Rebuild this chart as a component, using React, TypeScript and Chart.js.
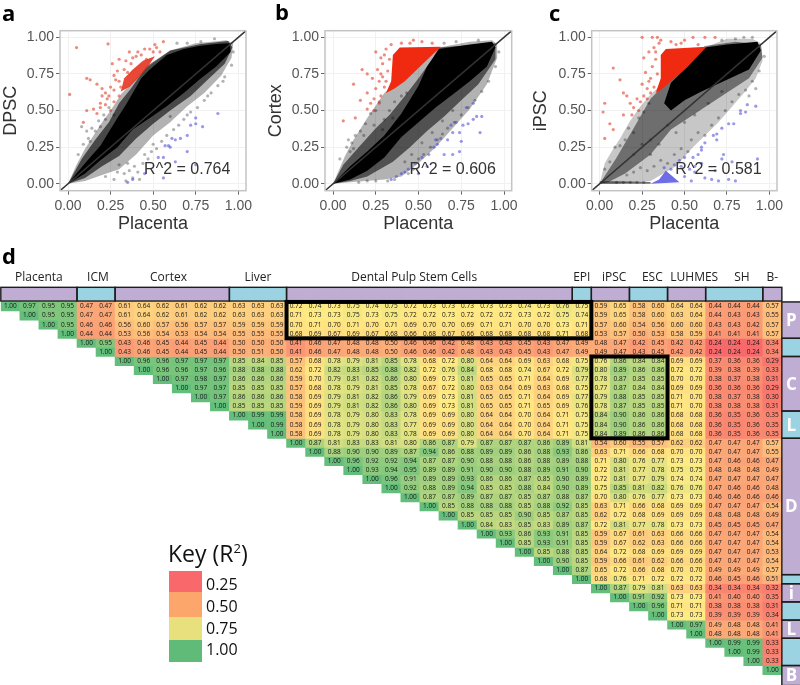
import React, { useEffect, useRef } from "react";
import { Chart, registerables } from "chart.js";

Chart.register(...registerables);

type P = [number, number];

// ---------- Scatter panels. The reference holds far too many points to read one by one,
// so each cloud is an estimated outline (dense mass, mid layer, thin halo) plus hand-read outliers.
const axisTicks = [0, 0.25, 0.5, 0.75, 1];
const diagonal: P[] = [[-0.05, -0.05], [1.05, 1.05]];

const aHalo: P[] = [[0, 0], [0.05, 0.13], [0.1, 0.24], [0.15, 0.33], [0.2, 0.42], [0.25, 0.5], [0.31, 0.61], [0.45, 0.78], [0.6, 0.91], [0.75, 0.96], [0.93, 0.98], [0.97, 0.96], [0.96, 0.86], [0.9, 0.74], [0.8, 0.62], [0.7, 0.53], [0.6, 0.42], [0.5, 0.33], [0.4, 0.2], [0.3, 0.1], [0.2, 0.06], [0.1, 0.02], [0, 0]];
const aMid: P[] = [[0, 0], [0.08, 0.17], [0.16, 0.3], [0.24, 0.42], [0.3, 0.55], [0.37, 0.65], [0.46, 0.8], [0.6, 0.91], [0.78, 0.955], [0.94, 0.975], [0.965, 0.93], [0.92, 0.82], [0.82, 0.71], [0.72, 0.6], [0.6, 0.5], [0.5, 0.41], [0.4, 0.31], [0.3, 0.19], [0.2, 0.12], [0.1, 0.04], [0, 0]];
const aCore: P[] = [[0, 0], [0.1, 0.14], [0.19, 0.26], [0.29, 0.45], [0.34, 0.54], [0.38, 0.62], [0.43, 0.72], [0.48, 0.78], [0.58, 0.88], [0.68, 0.92], [0.77, 0.94], [0.87, 0.955], [0.95, 0.96], [0.955, 0.9], [0.87, 0.8], [0.77, 0.71], [0.68, 0.62], [0.58, 0.53], [0.48, 0.45], [0.38, 0.37], [0.29, 0.25], [0.19, 0.16], [0.1, 0.07], [0, 0]];
const aRedCore: P[] = [[0.31, 0.63], [0.33, 0.72], [0.38, 0.78], [0.44, 0.84], [0.51, 0.87], [0.47, 0.8], [0.41, 0.72], [0.36, 0.66], [0.31, 0.63]];
const aRed: P[] = [[0.05, 0.93], [0.235, 0.955], [0.01, 0.61], [0.11, 0.72], [0.13, 0.71], [0.17, 0.68], [0.2, 0.65], [0.24, 0.6], [0.22, 0.62], [0.11, 0.5], [0.15, 0.51], [0.17, 0.48], [0.09, 0.42], [0.19, 0.55], [0.22, 0.54], [0.25, 0.5], [0.27, 0.56], [0.3, 0.6], [0.3, 0.7], [0.27, 0.74], [0.26, 0.82], [0.33, 0.78], [0.3, 0.85], [0.36, 0.9], [0.4, 0.87], [0.43, 0.88], [0.48, 0.92], [0.56, 0.97], [0.51, 0.95], [0.54, 0.9], [0.46, 0.85], [0.37, 0.82], [0.31, 0.66], [0.27, 0.64], [0.29, 0.77], [0.34, 0.84], [0.41, 0.9], [0.45, 0.92], [0.5, 0.9], [0.38, 0.86], [0.2, 0.6], [0.19, 0.52], [0.23, 0.58], [0.25, 0.66], [0.28, 0.71], [0.35, 0.76], [0.52, 0.93]];
const aBlue: P[] = [[0.88, 0.48], [0.79, 0.39], [0.75, 0.45], [0.72, 0.4], [0.75, 0.41], [0.7, 0.33], [0.61, 0.31], [0.59, 0.26], [0.63, 0.3], [0.66, 0.31], [0.56, 0.18], [0.53, 0.18], [0.7, 0.22], [0.6, 0.25], [0.57, 0.26], [0.35, 0.01], [0.38, 0.03], [0.45, 0.07], [0.56, 0.04], [0.63, 0.15], [0.75, 0.13]];
const aGray: P[] = [[0.06, 0.2], [0.09, 0.27], [0.12, 0.31], [0.14, 0.38], [0.16, 0.36], [0.18, 0.43], [0.21, 0.47], [0.24, 0.52], [0.27, 0.47], [0.13, 0.29], [0.11, 0.36], [0.08, 0.39], [0.19, 0.39], [0.22, 0.44], [0.15, 0.17], [0.22, 0.05], [0.27, 0.03], [0.29, 0.08], [0.33, 0.07], [0.36, 0.09], [0.39, 0.12], [0.41, 0.08], [0.44, 0.14], [0.47, 0.17], [0.49, 0.22], [0.52, 0.24], [0.55, 0.29], [0.58, 0.33], [0.62, 0.37], [0.65, 0.4], [0.68, 0.44], [0.72, 0.49], [0.76, 0.52], [0.8, 0.57], [0.84, 0.62], [0.88, 0.67], [0.92, 0.73], [0.96, 0.81], [0.97, 0.9], [0.78, 0.97], [0.7, 0.96], [0.64, 0.96], [0.86, 0.99], [0.5, 0.27], [0.45, 0.2], [0.35, 0.14], [0.3, 0.13], [0.38, 0.04], [0.34, 0.02], [0.42, 0.03], [0.6, 0.46], [0.7, 0.47], [0.82, 0.6], [0.91, 0.7]];

const bHalo: P[] = [[0, 0], [0.07, 0.19], [0.12, 0.3], [0.2, 0.45], [0.3, 0.62], [0.45, 0.78], [0.62, 0.93], [0.8, 0.97], [0.93, 0.98], [0.96, 0.95], [0.96, 0.86], [0.9, 0.68], [0.8, 0.51], [0.7, 0.38], [0.6, 0.25], [0.5, 0.14], [0.4, 0.05], [0.3, 0.03], [0.1, 0.01], [0, 0]];
const bMid: P[] = [[0, 0], [0.06, 0.13], [0.15, 0.25], [0.25, 0.38], [0.33, 0.47], [0.42, 0.6], [0.5, 0.72], [0.58, 0.85], [0.62, 0.93], [0.95, 0.96], [0.95, 0.85], [0.85, 0.68], [0.75, 0.57], [0.65, 0.46], [0.55, 0.36], [0.45, 0.25], [0.35, 0.15], [0.2, 0.05], [0.1, 0.02], [0, 0]];
const bCore: P[] = [[0, 0], [0.1, 0.12], [0.2, 0.22], [0.3, 0.33], [0.4, 0.48], [0.5, 0.67], [0.55, 0.8], [0.62, 0.92], [0.8, 0.95], [0.93, 0.97], [0.95, 0.93], [0.9, 0.8], [0.8, 0.7], [0.7, 0.61], [0.6, 0.52], [0.5, 0.42], [0.4, 0.32], [0.3, 0.18], [0.2, 0.09], [0.1, 0.03], [0, 0]];
const bRedCore: P[] = [[0.31, 0.62], [0.34, 0.7], [0.35, 0.88], [0.39, 0.93], [0.63, 0.935], [0.5, 0.79], [0.42, 0.7], [0.36, 0.65], [0.31, 0.62]];
const bRed: P[] = [[0.12, 0.68], [0.17, 0.78], [0.2, 0.75], [0.2, 0.62], [0.16, 0.57], [0.2, 0.51], [0.24, 0.58], [0.28, 0.6], [0.13, 0.45], [0.06, 0.43], [0.24, 0.5], [0.25, 0.65], [0.27, 0.7], [0.28, 0.75], [0.26, 0.78], [0.23, 0.72], [0.29, 0.82], [0.3, 0.88], [0.25, 0.9], [0.28, 0.86], [0.31, 0.92], [0.34, 0.95], [0.4, 0.96], [0.47, 0.98], [0.52, 0.97], [0.58, 0.96], [0.3, 0.66], [0.32, 0.77], [0.27, 0.55], [0.22, 0.55], [0.33, 0.85], [0.29, 0.73], [0.31, 0.7], [0.45, 0.96]];
const bBlue: P[] = [[0.87, 0.46], [0.84, 0.46], [0.82, 0.44], [0.86, 0.35], [0.79, 0.41], [0.76, 0.4], [0.72, 0.42], [0.69, 0.4], [0.74, 0.35], [0.7, 0.35], [0.75, 0.29], [0.67, 0.3], [0.63, 0.31], [0.6, 0.3], [0.59, 0.25], [0.65, 0.2], [0.7, 0.2], [0.74, 0.22], [0.56, 0.2], [0.52, 0.18], [0.48, 0.14], [0.44, 0.1], [0.42, 0.08], [0.4, 0.07], [0.37, 0.05], [0.34, 0.03], [0.5, 0.07], [0.55, 0.12], [0.82, 0.55], [0.78, 0.52], [0.61, 0.27]];
const bGray: P[] = [[0.04, 0.17], [0.08, 0.25], [0.1, 0.22], [0.13, 0.33], [0.11, 0.28], [0.16, 0.36], [0.19, 0.41], [0.22, 0.48], [0.25, 0.5], [0.27, 0.56], [0.18, 0.33], [0.24, 0.4], [0.3, 0.44], [0.33, 0.5], [0.36, 0.56], [0.4, 0.6], [0.43, 0.62], [0.46, 0.55], [0.35, 0.45], [0.29, 0.37], [0.44, 0.07], [0.47, 0.1], [0.5, 0.17], [0.53, 0.2], [0.57, 0.25], [0.61, 0.3], [0.64, 0.34], [0.67, 0.38], [0.71, 0.42], [0.75, 0.47], [0.79, 0.52], [0.83, 0.57], [0.87, 0.63], [0.91, 0.7], [0.95, 0.8], [0.97, 0.9], [0.85, 0.98], [0.72, 0.97], [0.65, 0.96], [0.36, 0.03], [0.32, 0.02], [0.25, 0.02], [0.2, 0.02], [0.15, 0.01], [0.42, 0.15], [0.46, 0.2], [0.52, 0.28], [0.58, 0.35], [0.64, 0.43], [0.7, 0.5], [0.12, 0.24], [0.09, 0.3]];

const cHalo: P[] = [[0, 0], [0.03, 0.14], [0.07, 0.22], [0.12, 0.31], [0.18, 0.43], [0.24, 0.53], [0.3, 0.61], [0.45, 0.77], [0.62, 0.93], [0.75, 0.99], [0.9, 0.99], [0.95, 0.96], [0.96, 0.84], [0.92, 0.72], [0.85, 0.62], [0.7, 0.42], [0.55, 0.25], [0.45, 0.12], [0.3, 0.02], [0.1, 0], [0, 0]];
const cMid: P[] = [[0, 0], [0.1, 0.18], [0.2, 0.38], [0.3, 0.58], [0.42, 0.72], [0.62, 0.94], [0.8, 0.97], [0.95, 0.95], [0.96, 0.86], [0.88, 0.72], [0.72, 0.6], [0.55, 0.47], [0.42, 0.37], [0.3, 0.2], [0.15, 0.07], [0.05, 0.01], [0, 0]];
const cCore: P[] = [[0.38, 0.55], [0.42, 0.69], [0.5, 0.78], [0.62, 0.93], [0.75, 0.95], [0.93, 0.97], [0.95, 0.91], [0.88, 0.78], [0.75, 0.71], [0.6, 0.63], [0.5, 0.57], [0.42, 0.5], [0.38, 0.55]];
const cStrip: P[] = [[0, 0], [0.3, 0], [0.3, 0.012], [0.1, 0.018], [0, 0.018], [0, 0]];
const cRedCore: P[] = [[0.33, 0.62], [0.36, 0.72], [0.36, 0.88], [0.39, 0.92], [0.63, 0.935], [0.52, 0.8], [0.42, 0.7], [0.36, 0.64], [0.33, 0.62]];
const cBlueCore: P[] = [[0.3, 0], [0.35, 0.03], [0.39, 0.09], [0.42, 0.06], [0.47, 0.01], [0.3, 0]];
const cRed: P[] = [[0.25, 1], [0.31, 1], [0.34, 1], [0.55, 1], [0.62, 1], [0.68, 1], [0.08, 0.79], [0.02, 0.49], [0.03, 0.55], [0.14, 0.62], [0.12, 0.71], [0.16, 0.6], [0.18, 0.55], [0.2, 0.52], [0.22, 0.58], [0.08, 0.37], [0.06, 0.41], [0.03, 0.31], [0.14, 0.47], [0.24, 0.56], [0.26, 0.6], [0.28, 0.65], [0.29, 0.7], [0.27, 0.76], [0.31, 0.8], [0.33, 0.85], [0.29, 0.9], [0.26, 0.86], [0.32, 0.93], [0.35, 0.96], [0.42, 0.97], [0.48, 0.96], [0.5, 0.98], [0.58, 0.95], [0.3, 0.72], [0.32, 0.66], [0.34, 0.75], [0.19, 0.47], [0.23, 0.5], [0.25, 0.68], [0.3, 0.62], [0.28, 0.58], [0.33, 0.9], [0.36, 0.98], [0.45, 0.95]];
const cBlue: P[] = [[0.92, 0.53], [0.83, 0.48], [0.86, 0.49], [0.79, 0.41], [0.76, 0.41], [0.72, 0.38], [0.69, 0.34], [0.69, 0.3], [0.67, 0.33], [0.62, 0.28], [0.6, 0.23], [0.6, 0.25], [0.58, 0.2], [0.55, 0.18], [0.5, 0.18], [0.47, 0.16], [0.73, 0.2], [0.72, 0.17], [0.78, 0.15], [0.93, 0.17], [0.56, 0.12], [0.6, 0.14], [0.53, 0.1], [0.48, 0.12], [0.44, 0.13], [0.68, 0.09], [0.76, 0.03], [0.8, 0.02], [0.7, 0.02], [0.66, 0.03], [0.62, 0.04], [0.54, 0.02], [0.5, 0.05], [0.42, 0.1], [0.38, 0.11], [0.56, 0.08], [0.83, 0.5], [0.87, 0.54]];
const cGray: P[] = [[0.03, 0.1], [0.06, 0.15], [0.09, 0.25], [0.12, 0.26], [0.15, 0.3], [0.17, 0.38], [0.2, 0.35], [0.23, 0.45], [0.26, 0.49], [0.29, 0.55], [0.1, 0.01], [0.14, 0.01], [0.18, 0.01], [0.22, 0.01], [0.26, 0.01], [0.16, 0.06], [0.2, 0.08], [0.24, 0.11], [0.28, 0.09], [0.32, 0.12], [0.36, 0.16], [0.4, 0.14], [0.44, 0.2], [0.48, 0.24], [0.52, 0.22], [0.54, 0.3], [0.58, 0.35], [0.62, 0.33], [0.66, 0.4], [0.7, 0.45], [0.74, 0.5], [0.78, 0.56], [0.82, 0.61], [0.86, 0.64], [0.9, 0.7], [0.94, 0.77], [0.97, 0.87], [0.92, 0.65], [0.88, 0.6], [0.8, 0.99], [0.9, 1], [0.85, 1], [0.72, 0.98], [0.4, 0.4], [0.35, 0.27], [0.3, 0.2], [0.45, 0.35], [0.5, 0.42], [0.56, 0.47], [0.64, 0.55], [0.72, 0.63], [0.3, 0.3], [0.25, 0.27], [0.2, 0.2]];

const panelNames = ["DPSC", "Cortex", "iPSC"];
const rSquared = ["R^2 = 0.764", "R^2 = 0.606", "R^2 = 0.581"];
const xTitle = "Placenta";

// ---------- Heat map (upper triangle, each row starts on the diagonal)
const heatRows: number[][] = [
  [1.00,.97,.95,.95,.47,.47,.61,.64,.62,.61,.62,.62,.63,.63,.63,.72,.74,.73,.75,.74,.75,.72,.73,.73,.73,.73,.73,.74,.73,.76,.75,.59,.65,.58,.60,.64,.64,.44,.44,.44,.57],
  [1.00,.95,.95,.47,.47,.61,.64,.62,.61,.62,.62,.63,.63,.63,.71,.73,.73,.75,.73,.75,.72,.72,.73,.72,.72,.72,.73,.72,.75,.74,.59,.65,.58,.60,.63,.64,.44,.43,.43,.55],
  [1.00,.95,.46,.46,.56,.60,.57,.56,.57,.57,.59,.59,.59,.70,.71,.70,.71,.70,.71,.69,.70,.70,.69,.71,.71,.70,.70,.73,.71,.57,.60,.54,.56,.60,.60,.43,.43,.42,.57],
  [1.00,.44,.44,.53,.56,.54,.53,.54,.54,.55,.55,.55,.68,.69,.67,.69,.67,.68,.66,.68,.67,.66,.68,.68,.68,.68,.71,.68,.53,.57,.50,.53,.58,.59,.41,.41,.41,.57],
  [1.00,.95,.43,.46,.45,.44,.45,.44,.50,.50,.50,.41,.46,.47,.48,.48,.50,.46,.46,.42,.48,.43,.43,.45,.43,.47,.49,.48,.47,.42,.45,.42,.42,.24,.24,.24,.34],
  [1.00,.43,.46,.45,.44,.45,.44,.50,.51,.50,.41,.46,.47,.48,.48,.50,.46,.46,.42,.48,.43,.43,.45,.43,.47,.49,.49,.47,.43,.45,.42,.42,.24,.24,.24,.34],
  [1.00,.96,.96,.97,.97,.97,.85,.84,.85,.57,.68,.78,.79,.81,.85,.78,.68,.72,.80,.64,.64,.69,.63,.68,.75,.76,.86,.84,.84,.69,.69,.37,.36,.36,.29],
  [1.00,.96,.96,.97,.96,.88,.88,.88,.62,.72,.82,.83,.85,.88,.82,.72,.76,.84,.68,.68,.74,.67,.72,.79,.80,.89,.86,.86,.72,.72,.39,.38,.39,.33],
  [1.00,.97,.98,.97,.86,.86,.86,.59,.70,.79,.81,.82,.86,.80,.69,.73,.81,.65,.65,.71,.64,.69,.77,.78,.87,.85,.85,.70,.70,.38,.37,.38,.31],
  [1.00,.97,.97,.85,.85,.85,.57,.68,.78,.79,.81,.85,.78,.67,.72,.80,.63,.64,.69,.63,.68,.75,.77,.87,.84,.84,.69,.69,.36,.36,.36,.29],
  [1.00,.97,.86,.86,.86,.58,.69,.79,.81,.82,.86,.79,.69,.73,.81,.65,.65,.71,.64,.69,.77,.79,.88,.85,.85,.71,.70,.38,.37,.38,.30],
  [1.00,.85,.85,.85,.59,.69,.79,.81,.82,.86,.80,.69,.73,.81,.65,.65,.71,.65,.69,.76,.78,.87,.85,.85,.71,.70,.38,.38,.38,.31],
  [1.00,.99,.99,.58,.69,.78,.79,.80,.83,.78,.69,.69,.80,.64,.64,.70,.64,.71,.75,.84,.90,.86,.86,.68,.68,.36,.35,.36,.35],
  [1.00,.99,.58,.69,.78,.79,.80,.83,.77,.69,.69,.80,.64,.64,.70,.64,.71,.75,.84,.90,.86,.86,.68,.68,.36,.35,.36,.35],
  [1.00,.58,.69,.78,.79,.80,.83,.78,.69,.69,.80,.64,.64,.70,.64,.71,.75,.84,.89,.86,.86,.68,.68,.36,.35,.36,.35],
  [1.00,.87,.81,.83,.83,.81,.80,.86,.87,.79,.87,.87,.87,.86,.89,.81,.54,.60,.55,.57,.62,.62,.47,.47,.47,.57],
  [1.00,.88,.90,.90,.89,.87,.94,.86,.88,.89,.89,.86,.88,.93,.86,.63,.71,.66,.68,.70,.70,.47,.47,.47,.55],
  [1.00,.96,.92,.92,.94,.87,.87,.90,.88,.88,.86,.88,.89,.88,.71,.80,.76,.77,.73,.73,.47,.46,.46,.47],
  [1.00,.93,.94,.95,.89,.89,.91,.90,.90,.88,.89,.91,.90,.72,.81,.77,.78,.75,.75,.48,.48,.48,.49],
  [1.00,.96,.91,.89,.89,.93,.86,.86,.87,.85,.90,.89,.72,.81,.77,.79,.74,.74,.47,.47,.47,.47],
  [1.00,.92,.88,.89,.94,.85,.85,.88,.84,.90,.89,.75,.85,.81,.82,.76,.76,.47,.46,.46,.48],
  [1.00,.87,.87,.89,.87,.87,.85,.87,.88,.87,.70,.80,.76,.77,.73,.73,.46,.46,.46,.46],
  [1.00,.85,.88,.88,.88,.85,.88,.92,.85,.63,.71,.66,.68,.69,.69,.47,.47,.47,.54],
  [1.00,.85,.85,.85,.90,.85,.87,.85,.62,.72,.68,.69,.69,.69,.48,.48,.48,.49],
  [1.00,.84,.83,.85,.83,.89,.87,.72,.81,.77,.78,.73,.73,.45,.45,.45,.47],
  [1.00,.93,.86,.93,.91,.85,.59,.67,.61,.63,.66,.66,.47,.47,.47,.54],
  [1.00,.85,.93,.91,.85,.59,.67,.62,.63,.66,.66,.47,.47,.47,.54],
  [1.00,.85,.88,.85,.64,.72,.68,.69,.69,.69,.47,.47,.47,.53],
  [1.00,.90,.85,.59,.66,.61,.62,.66,.66,.47,.47,.47,.54],
  [1.00,.87,.65,.72,.66,.68,.70,.70,.49,.49,.49,.57],
  [1.00,.68,.76,.71,.72,.72,.72,.46,.45,.46,.51],
  [1.00,.87,.79,.81,.63,.63,.34,.34,.34,.32],
  [1.00,.91,.92,.73,.73,.41,.40,.40,.35],
  [1.00,.96,.71,.71,.38,.38,.38,.31],
  [1.00,.73,.73,.39,.39,.39,.34],
  [1.00,.97,.49,.48,.48,.41],
  [1.00,.48,.48,.48,.41],
  [1.00,.99,.99,.33],
  [1.00,.99,.33],
  [1.00,.33],
  [1.00],
];
const groupNames = ["Placenta", "ICM", "Cortex", "Liver", "Dental Pulp Stem Cells", "EPI", "iPSC", "ESC", "LUHMES", "SH", "B-"];
const groupSizes = [4, 2, 6, 3, 15, 1, 2, 2, 2, 3, 1];
const groupLabelCols = [1.5, 4.6, 8.3, 13, 21.2, 30, 31.7, 33.7, 35.9, 38.4, 40];
const sideLetters = ["P", "", "C", "L", "D", "", "i", "", "L", "", "B"];
const highlightBoxes = [
  { c0: 15, c1: 30, r0: 0, r1: 3 },
  { c0: 31, c1: 34, r0: 6, r1: 14 },
];
const keyLabels = ["0.25", "0.50", "0.75", "1.00"];
const keyColors = ["#f9696b", "#fca66c", "#e8e07d", "#60bb78"];

const PURPLE = "#bfadd3";
const BLUE = "#9bd3e2";

function mix(a: number[], b: number[], t: number) {
  return `rgb(${a.map((v, i) => Math.round(v + (b[i] - v) * t)).join(",")})`;
}
function cellColor(v: number) {
  const lo = [248, 105, 107], mid = [255, 235, 132], hi = [99, 190, 123];
  const m = 0.73;
  return v < m ? mix(lo, mid, Math.max(0, (v - 0.24) / (m - 0.24))) : mix(mid, hi, (v - m) / (1 - m));
}

const toXY = (a: P[]) => a.map(([x, y]) => ({ x, y }));
const shape = (data: P[], color: string) => ({
  type: "scatter" as const, data: toXY(data), showLine: true, fill: "shape" as any,
  backgroundColor: color, borderColor: "rgba(0,0,0,0)", borderWidth: 0, pointRadius: 0,
});
const dots = (data: P[], color: string, radius = 1.6) => ({
  type: "scatter" as const, data: toXY(data), showLine: false,
  backgroundColor: color, borderWidth: 0, pointRadius: radius,
});

function scatterChart(
  canvas: HTMLCanvasElement, idx: number, areaLeft: number, areaRight: number,
  sets: any[],
) {
  const W = canvas.width, H = canvas.height;
  const axisFont = { family: "'Liberation Sans'", size: 14 };
  const common = {
    min: -0.047, max: 1.045,
    afterBuildTicks: (s: any) => { s.ticks = axisTicks.map((value) => ({ value })); },
    grid: { color: "#f1f1f1", tickColor: "#666", tickLength: 4, lineWidth: 1 },
    border: { display: false },
  };
  return new Chart(canvas, {
    type: "scatter",
    data: {
      datasets: [
        { type: "scatter", data: toXY(diagonal), showLine: true, borderColor: "#333", borderWidth: 1.5, pointRadius: 0 },
        ...sets,
      ] as any,
    },
    options: {
      animation: false, responsive: false, maintainAspectRatio: false,
      layout: { padding: { top: 30.7, right: W - areaRight, left: 0, bottom: 0 } },
      plugins: { legend: { display: false }, tooltip: { enabled: false } },
      scales: {
        x: {
          ...common, type: "linear",
          afterFit: (s: any) => { s.height = H - 190.7; },
          ticks: { color: "#555", font: axisFont, padding: 3, maxRotation: 0, autoSkip: false, callback: (v: any) => Number(v).toFixed(2) },
          title: { display: true, text: xTitle, color: "#333", font: { family: "'Liberation Sans'", size: 18 }, padding: 0 },
        },
        y: {
          ...common, type: "linear",
          afterFit: (s: any) => { s.width = areaLeft; },
          ticks: { color: "#555", font: axisFont, padding: 2, autoSkip: false, callback: (v: any) => Number(v).toFixed(2) },
          title: { display: true, text: panelNames[idx], color: "#333", font: { family: "'Liberation Sans'", size: 18 }, padding: 0 },
        },
      },
    },
    plugins: [{
      id: "frameAndNote",
      afterDatasetsDraw(c: any) {
        const { ctx, chartArea: a, scales } = c;
        ctx.save();
        ctx.strokeStyle = "#c4c4c4";
        ctx.lineWidth = 1.5;
        ctx.strokeRect(a.left, a.top, a.right - a.left, a.bottom - a.top);
        ctx.fillStyle = "#333";
        ctx.font = "16px 'Liberation Sans'";
        ctx.textAlign = "center";
        ctx.textBaseline = "middle";
        ctx.fillText(rSquared[idx], scales.x.getPixelForValue(0.7), scales.y.getPixelForValue(0.095));
        ctx.restore();
      },
    }],
  } as any);
}

function heatChart(canvas: HTMLCanvasElement) {
  const nCols = 42;
  const labels = Array.from({ length: nCols }, (_, i) => String(i));
  const datasets: any[] = [];
  heatRows.forEach((vals, r) => {
    const data: any[] = new Array(nCols).fill(null);
    const colors: string[] = new Array(nCols).fill("#fff");
    vals.forEach((v, k) => {
      data[r + k] = [r - 0.5, r + 0.5];
      colors[r + k] = cellColor(v);
    });
    datasets.push({ data, backgroundColor: colors });
  });
  const colColors: string[] = [];
  groupSizes.forEach((n, g) => { for (let i = 0; i < n; i++) colColors.push(g % 2 ? BLUE : PURPLE); });
  datasets.push({ data: colColors.map(() => [-2.11, -0.6]), backgroundColor: colColors });
  let start = 0;
  const sideSpans = groupSizes.map((n) => { const s = [start - 0.5, start + n - 0.5]; start += n; return s; });
  sideSpans[sideSpans.length - 1][1] = 41.7;
  sideSpans.forEach((span, g) => {
    const data: any[] = new Array(nCols).fill(null);
    data[41] = span;
    datasets.push({ data, backgroundColor: g % 2 ? BLUE : PURPLE });
  });

  return new Chart(canvas, {
    type: "bar",
    data: { labels, datasets },
    options: {
      animation: false, responsive: false, maintainAspectRatio: false,
      layout: { padding: { left: 0.8, right: canvas.width - 800.9, top: 0, bottom: 0 } },
      datasets: { bar: { grouped: false, barPercentage: 1, categoryPercentage: 1, borderWidth: 0 } },
      plugins: { legend: { display: false }, tooltip: { enabled: false } },
      scales: {
        x: { type: "category", display: false, offset: true },
        y: { type: "linear", display: false, reverse: true, min: -4.895, max: 41.64 },
      },
    },
    plugins: [{
      id: "heatText",
      afterDatasetsDraw(c: any) {
        const { ctx, scales } = c;
        const xs = scales.x, ys = scales.y;
        const cw = xs.getPixelForValue(1) - xs.getPixelForValue(0);
        const left = (col: number) => xs.getPixelForValue(col) - cw / 2;
        const right = (col: number) => xs.getPixelForValue(col) + cw / 2;
        ctx.save();
        ctx.textAlign = "center";
        ctx.textBaseline = "middle";
        ctx.fillStyle = "#161616";
        ctx.font = "6.5px 'Open Sans'";
        heatRows.forEach((vals, r) => vals.forEach((v, k) => {
          ctx.fillText(v.toFixed(2), xs.getPixelForValue(r + k), ys.getPixelForValue(r));
        }));

        ctx.strokeStyle = "#1d1d1d";
        ctx.lineWidth = 1.4;
        let s = 0;
        groupSizes.forEach((n, g) => {
          const top = ys.getPixelForValue(-2.11), bot = ys.getPixelForValue(-0.6);
          ctx.strokeRect(left(s), top, right(s + n - 1) - left(s), bot - top);
          const y0 = ys.getPixelForValue(s - 0.5), y1 = ys.getPixelForValue(g === groupSizes.length - 1 ? 41.7 : s + n - 0.5);
          ctx.strokeRect(left(41), y0, right(41) - left(41), y1 - y0);

          ctx.fillStyle = "#222";
          ctx.font = "12px 'Open Sans'";
          ctx.fillText(groupNames[g], xs.getPixelForValue(0) + cw * groupLabelCols[g], ys.getPixelForValue(-3.2));
          if (sideLetters[g]) {
            ctx.fillStyle = "#fff";
            ctx.font = "bold 17px 'Open Sans'";
            ctx.fillText(sideLetters[g], xs.getPixelForValue(41), (y0 + Math.min(y1, 423)) / 2 + 1);
          }
          s += n;
        });

        ctx.strokeStyle = "#000";
        ctx.lineWidth = 4;
        highlightBoxes.forEach((b) => {
          const y0 = ys.getPixelForValue(b.r0 - 0.5), y1 = ys.getPixelForValue(b.r1 + 0.5);
          ctx.strokeRect(left(b.c0), y0, right(b.c1) - left(b.c0), y1 - y0);
        });
        ctx.restore();
      },
    }],
  } as any);
}

const panelLetter = (left: number, top: number, size = 24): React.CSSProperties => ({
  position: "absolute", left, top, fontFamily: "'Open Sans'", fontWeight: 700, fontSize: size, lineHeight: 1, color: "#000",
});

export default function App() {
  const aRef = useRef<HTMLCanvasElement>(null);
  const bRef = useRef<HTMLCanvasElement>(null);
  const cRef = useRef<HTMLCanvasElement>(null);
  const dRef = useRef<HTMLCanvasElement>(null);

  useEffect(() => {
    const RED = "rgba(222,44,20,0.55)", REDSOLID = "#f02a10";
    const BL = "rgba(70,70,215,0.55)", GR = "rgba(0,0,0,0.3)";
    const charts = [
      scatterChart(aRef.current!, 0, 60, 246, [
        dots(aRed, RED), shape(aRedCore, "rgba(230,40,20,0.85)"), dots(aBlue, BL),
        shape(aCore, "#000"), shape(aMid, "rgba(0,0,0,0.6)"), dots(aGray, GR), shape(aHalo, "rgba(0,0,0,0.3)"),
      ]),
      scatterChart(bRef.current!, 1, 60, 246.7, [
        dots(bRed, RED), shape(bRedCore, REDSOLID), dots(bBlue, BL),
        shape(bCore, "#000"), shape(bMid, "rgba(0,0,0,0.55)"), dots(bGray, GR), shape(bHalo, "rgba(0,0,0,0.3)"),
      ]),
      scatterChart(cRef.current!, 2, 61.7, 247, [
        dots(cRed, RED), shape(cRedCore, REDSOLID), shape(cBlueCore, "rgba(60,60,220,0.75)"), dots(cBlue, BL),
        shape(cCore, "#000"), shape(cStrip, "rgba(0,0,0,0.55)"), shape(cMid, "rgba(0,0,0,0.45)"), dots(cGray, GR), shape(cHalo, "rgba(0,0,0,0.22)"),
      ]),
      heatChart(dRef.current!),
    ];
    return () => charts.forEach((c) => c.destroy());
  }, []);

  const abs = (left: number, top: number, blur = 0): React.CSSProperties => ({
    position: "absolute", left, top, filter: blur ? `blur(${blur}px)` : undefined,
  });

  return (
    <div style={{ position: "fixed", left: 0, top: 0, width: 800, height: 685, overflow: "hidden", background: "#fff" }}>
      <canvas ref={aRef} width={262} height={235} style={abs(0, 0, 0.55)} />
      <canvas ref={bRef} width={262} height={235} style={abs(265, 0, 0.55)} />
      <canvas ref={cRef} width={262} height={235} style={abs(530, 0, 0.55)} />
      <canvas ref={dRef} width={802} height={423} style={abs(0, 262, 0.4)} />
      <div style={panelLetter(2, 1, 22)}>a</div>
      <div style={panelLetter(275, 0, 22)}>b</div>
      <div style={panelLetter(549, 1, 22)}>c</div>
      <div style={panelLetter(2, 244, 22)}>d</div>
      <div style={{ position: "absolute", left: 168, top: 538, fontFamily: "'Open Sans'", fontSize: 23, lineHeight: "30px", color: "#111", whiteSpace: "nowrap" }}>
        Key (R<sup style={{ fontSize: 13, lineHeight: 0 }}>2</sup>)
      </div>
      {keyLabels.map((k, i) => (
        <React.Fragment key={k}>
          <div style={{ position: "absolute", left: 169, top: [570.7, 592.3, 616.7, 640][i], width: 33, height: [21.6, 24.4, 23.3, 21.7][i], background: keyColors[i] }} />
          <div style={{ position: "absolute", left: 206, top: 573 + i * 21.8, fontFamily: "'Open Sans'", fontSize: 16, lineHeight: "22px", color: "#111" }}>{k}</div>
        </React.Fragment>
      ))}
    </div>
  );
}
